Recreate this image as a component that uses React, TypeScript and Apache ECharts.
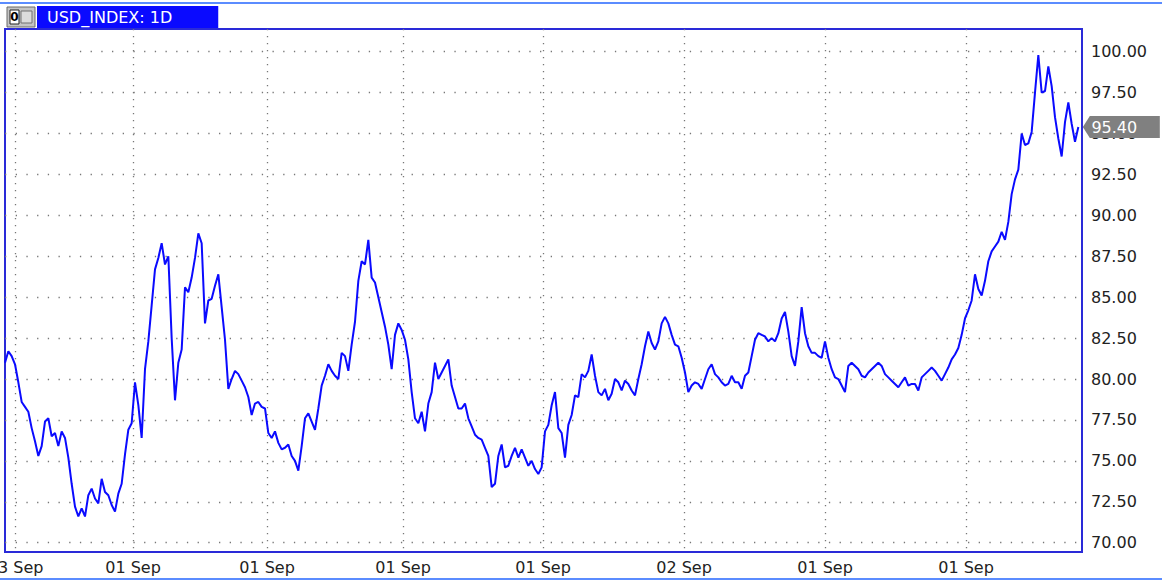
import React, { useEffect, useRef } from 'react';
import * as echarts from 'echarts';

const TITLE = 'USD_INDEX: 1D';
const LAST_LABEL = '95.40';

// Closing values, evenly spaced bars (left to right)
const valuesA = [
  81.0, 81.7, 81.4, 80.9, 79.8, 78.6, 78.3, 78.0, 77.0, 76.2, 75.3, 75.9, 77.4, 77.6, 76.5, 76.7, 75.9, 76.8, 76.4, 75.2,
  73.6, 72.2, 71.6, 72.1, 71.6, 72.9, 73.3, 72.7, 72.4, 73.9, 73.1, 72.9, 72.3, 71.9, 73.0, 73.6, 75.4, 76.9, 77.3, 79.8,
  78.4, 76.4, 80.6, 82.3, 84.5, 86.7, 87.4, 88.3, 87.0, 87.5, 82.5, 78.7, 81.0, 81.8, 85.6,
];
const valuesB = [
  85.3, 86.2, 87.4, 88.9, 88.3, 83.4, 84.8, 84.9, 85.7, 86.4, 84.4, 82.4, 79.4, 80.0, 80.5, 80.3, 79.9, 79.5, 78.9, 77.8,
  78.5, 78.6, 78.3, 78.2, 76.7, 76.4, 76.8, 76.1, 75.7, 75.8, 76.0, 75.3, 75.0, 74.4, 75.9, 77.6, 77.9, 77.4, 76.9, 78.2,
  79.6, 80.2, 80.9, 80.5, 80.2, 80.0, 81.6, 81.4, 80.5, 82.1, 83.5, 86.0, 87.2, 87.0,
];
const valuesC = [
  88.5, 86.2, 85.9, 85.0, 84.1, 83.2, 82.1, 80.6, 82.7, 83.4, 83.0, 82.4, 81.2, 79.2, 77.6, 77.3, 78.0, 76.8, 78.5, 79.2,
  81.0, 80.0, 80.4, 80.8, 81.2, 79.6, 78.9, 78.2, 78.2, 78.5, 77.6, 77.1, 76.6, 76.4, 76.3, 75.8, 75.3, 73.4, 73.6, 75.3,
  76.0, 74.6, 74.7, 75.3, 75.8, 75.2, 75.7, 75.2, 74.7, 75.0, 74.5, 74.2, 74.6, 76.8,
];
const valuesD = [
  77.2, 78.4, 79.2, 77.0, 76.7, 75.2, 77.2, 77.8, 79.0, 78.9, 80.3, 80.1, 80.5, 81.5, 80.2, 79.2, 79.0, 79.4, 78.7, 79.1,
  80.0, 79.8, 79.3, 79.9, 79.7, 79.3, 79.0, 80.0, 80.9, 82.0, 82.9, 82.2, 81.8, 82.3, 83.4, 83.8, 83.4, 82.7, 82.1, 82.0,
  81.3, 80.4, 79.2, 79.6, 79.8, 79.7, 79.4, 80.0, 80.6, 80.9, 80.3, 80.1, 79.8,
];
const valuesE = [
  79.6, 79.7, 80.2, 79.8, 79.8, 79.4, 80.2, 80.4, 81.4, 82.4, 82.8, 82.7, 82.6, 82.3, 82.5, 82.3, 82.8, 83.7, 84.1, 82.9,
  81.4, 80.8, 82.3, 84.4, 82.8, 82.0, 81.6, 81.6, 81.4, 81.3, 82.3, 81.3, 80.6, 80.1, 80.0, 79.6, 79.2, 80.8, 81.0, 80.8,
  80.6, 80.2, 80.1, 80.4, 80.6, 80.8, 81.0, 80.8, 80.3, 80.1, 79.9, 79.7, 79.5, 79.8,
];
const valuesF = [
  80.1, 79.6, 79.7, 79.7, 79.3, 80.1, 80.3, 80.5, 80.7, 80.5, 80.2, 79.9, 80.3, 80.7, 81.2, 81.5, 81.9, 82.7, 83.7, 84.2,
  84.8, 86.4, 85.5, 85.1, 86.0, 87.2, 87.8, 88.1, 88.4, 89.0, 88.5, 89.6, 91.3, 92.2, 92.8, 95.0, 94.3, 94.4, 95.1, 97.5,
  99.8, 97.5, 97.6, 99.1, 97.9, 96.0, 94.7, 93.6, 95.7, 96.9, 95.6, 94.5, 95.4,
];
const closeValues = [...valuesA, ...valuesB, ...valuesC, ...valuesD, ...valuesE, ...valuesF];

// x-axis: bar positions of the date grid lines and their labels
const xTickPositions = [3.2, 38.4, 78.6, 119.4, 161.4, 203.7, 246.0, 288.3];
const xTickLabels = ['03 Sep', '01 Sep', '01 Sep', '01 Sep', '01 Sep', '02 Sep', '01 Sep', '01 Sep'];
const yTickValues = [70, 72.5, 75, 77.5, 80, 82.5, 85, 87.5, 90, 92.5, 95, 97.5, 100];

const X_MIN = 0;
const X_MAX = 323.1;
const Y_MIN = 69.43;
const Y_MAX = 101.39;

const FONT = 'DejaVu Sans';

export default function App() {
  const ref = useRef<HTMLDivElement>(null);

  useEffect(() => {
    if (!ref.current) return;
    const chart = echarts.init(ref.current, undefined, { renderer: 'svg' });
    const lastIndex = closeValues.length - 1;
    const option: any = {
      animation: false,
      backgroundColor: '#ffffff',
      textStyle: { fontFamily: FONT },
      title: {
        text: TITLE,
        left: 37,
        top: 6,
        padding: [3, 46, 3, 10],
        backgroundColor: '#0a0aff',
        textStyle: { color: '#ffffff', fontSize: 16, fontWeight: 'normal', fontFamily: FONT, lineHeight: 16 },
      },
      grid: {
        left: 5,
        right: 80,
        top: 29,
        bottom: 29,
        show: true,
        containLabel: false,
        outerBoundsMode: 'none',
        borderColor: '#2a2ad8',
        borderWidth: 2,
        backgroundColor: 'transparent',
      },
      xAxis: {
        type: 'value',
        min: X_MIN,
        max: X_MAX,
        axisLine: { show: false },
        axisTick: { show: false, customValues: xTickPositions },
        axisLabel: {
          customValues: xTickPositions,
          formatter: (v: number) => {
            const k = xTickPositions.findIndex((p) => Math.abs(p - v) < 0.01);
            return k >= 0 ? xTickLabels[k] : '';
          },
          fontSize: 16,
          fontFamily: FONT,
          color: '#222222',
          margin: 7,
        },
        splitLine: { show: true, lineStyle: { color: '#777777', width: 1.3, type: [1.3, 5.7] } },
      },
      yAxis: {
        type: 'value',
        position: 'right',
        min: Y_MIN,
        max: Y_MAX,
        axisLine: { show: false },
        axisTick: { show: false, customValues: yTickValues },
        axisLabel: {
          customValues: yTickValues,
          formatter: (v: number) => v.toFixed(2),
          fontSize: 16,
          fontFamily: FONT,
          color: '#222222',
          margin: 9,
        },
        splitLine: { show: true, lineStyle: { color: '#777777', width: 1.3, type: [1.3, 9.4] } },
      },
      series: [
        {
          type: 'line',
          data: closeValues.map((v, i) => [i, v]),
          showSymbol: false,
          symbol: 'none',
          lineStyle: { color: '#0a0aff', width: 2 },
          markPoint: {
            silent: true,
            symbol: 'path://M0,11 L7,0 L77,0 L77,22 L7,22 Z',
            symbolSize: [77, 22],
            symbolKeepAspect: false,
            symbolOffset: [43, 0],
            itemStyle: { color: '#808080' },
            label: {
              show: true,
              position: 'inside',
              formatter: LAST_LABEL,
              color: '#ffffff',
              fontSize: 16,
              fontFamily: FONT,
              offset: [-7, 0],
            },
            data: [{ coord: [lastIndex, closeValues[lastIndex]] }],
          },
        },
      ],
      graphic: [
        { type: 'line', shape: { x1: 0, y1: 3, x2: 1162, y2: 3 }, style: { stroke: '#5b8cff', lineWidth: 2 } },
        { type: 'line', shape: { x1: 0, y1: 579, x2: 1162, y2: 579 }, style: { stroke: '#5b8cff', lineWidth: 2 } },
        { type: 'rect', shape: { x: 7, y: 7, width: 28, height: 20 }, style: { fill: '#c4c4c4', stroke: '#6a6a6a', lineWidth: 1 } },
        { type: 'rect', shape: { x: 10, y: 10, width: 9, height: 14 }, style: { fill: '#ffffff', stroke: '#222222', lineWidth: 1 } },
        { type: 'text', x: 14.5, y: 17, style: { text: '0', fill: '#000000', fontSize: 12, fontWeight: 'bold', fontFamily: FONT, align: 'center', verticalAlign: 'middle' } },
        { type: 'rect', shape: { x: 21, y: 11, width: 11, height: 12 }, style: { fill: '#dcdcdc', stroke: '#707070', lineWidth: 1 } },
      ],
    };
    chart.setOption(option);
    return () => chart.dispose();
  }, []);

  return <div ref={ref} style={{ position: 'fixed', left: 0, top: 0, width: 1162, height: 581 }} />;
}
